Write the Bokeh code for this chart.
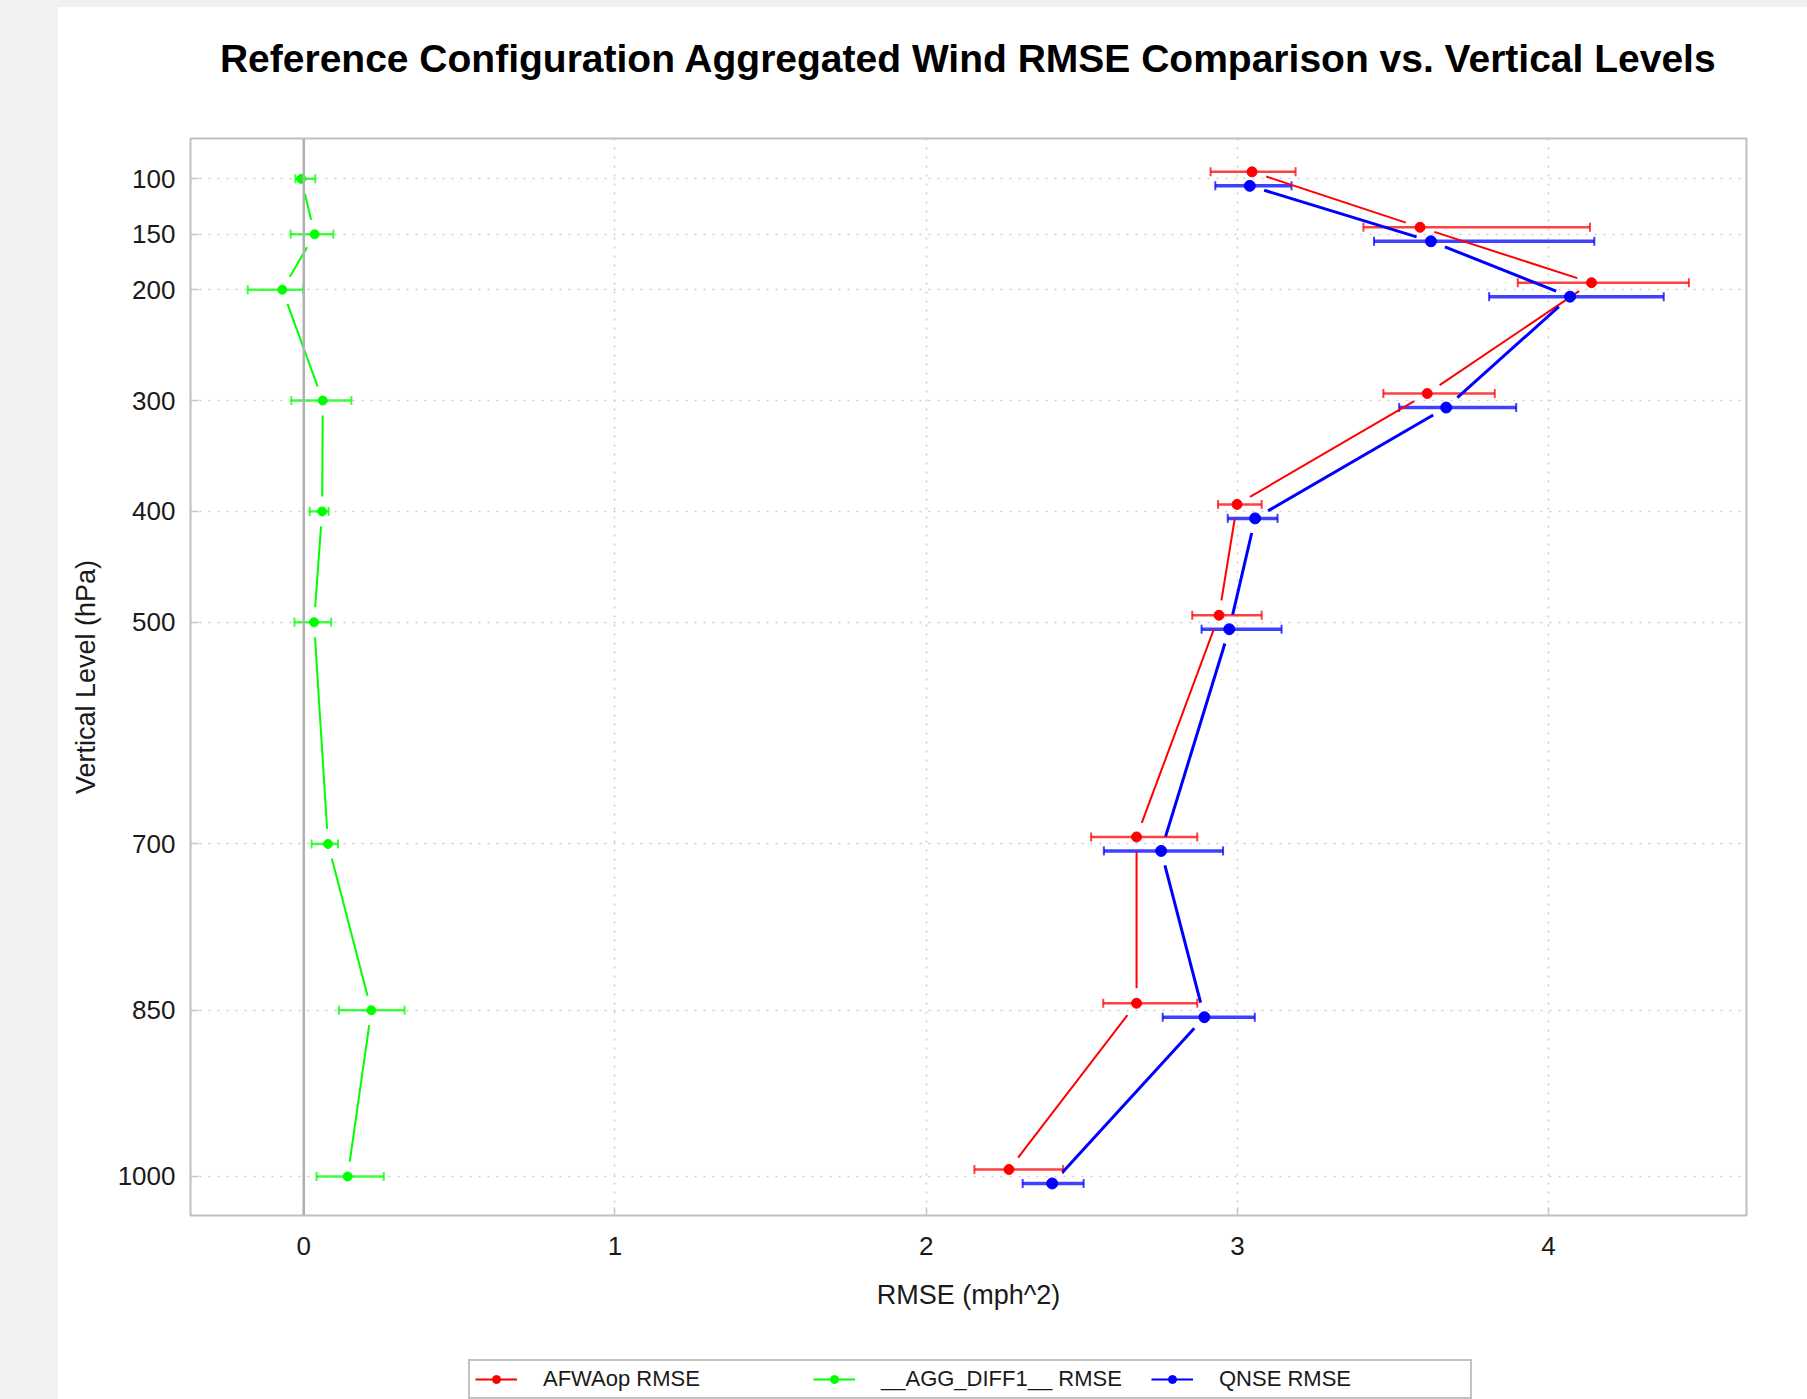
import math
from bokeh.plotting import figure
from bokeh.layouts import column
from bokeh.models import (ColumnDataSource, Range1d, FixedTicker, Whisker, TeeHead,
                          Span, Legend, LegendItem)
from bokeh.embed import file_html
from bokeh.resources import INLINE

# ---------------- data ----------------
levels = [100, 150, 200, 300, 400, 500, 700, 850, 1000]

afwa_rmse = [3.047, 3.587, 4.138, 3.610, 2.999, 2.941, 2.676, 2.676, 2.266]
afwa_lo = [2.914, 3.405, 3.901, 3.469, 2.938, 2.855, 2.530, 2.569, 2.155]
afwa_hi = [3.187, 4.133, 4.451, 3.827, 3.078, 3.078, 2.871, 2.871, 2.440]

qnse_rmse = [3.040, 3.622, 4.069, 3.671, 3.057, 2.974, 2.755, 2.894, 2.405]
qnse_lo = [2.929, 3.439, 3.809, 3.520, 2.969, 2.885, 2.571, 2.760, 2.310]
qnse_hi = [3.174, 4.147, 4.370, 3.896, 3.129, 3.142, 2.954, 3.056, 2.506]

diff_rmse = [-0.008, 0.035, -0.069, 0.061, 0.059, 0.033, 0.078, 0.217, 0.141]
diff_lo = [-0.027, -0.042, -0.180, -0.040, 0.019, -0.030, 0.025, 0.113, 0.041]
diff_hi = [0.037, 0.095, -0.002, 0.153, 0.080, 0.088, 0.110, 0.324, 0.257]

x_ticks = [0, 1, 2, 3, 4]
series_labels = ["AFWAop RMSE", "__AGG_DIFF1__ RMSE", "QNSE RMSE"]

title_text = "Reference Configuration Aggregated Wind RMSE Comparison vs. Vertical Levels"
x_label = "RMSE (mph^2)"
y_label = "Vertical Level (hPa)"

# ---------------- layout / style ----------------
FONT = "Liberation Sans"
X_START, X_END = -0.364, 4.636
Y_BOTTOM, Y_TOP = 1035.2, 63.6
FIG_W = 1749
B_LEFT, B_RIGHT = 132, 61
TITLE_H = 80
LEG_H = 59
MAIN_H = 1399 - 7 - TITLE_H - LEG_H
B_TOP = 131 - TITLE_H
FRAME_H = 1077
B_BOTTOM = MAIN_H - B_TOP - FRAME_H
FRAME_W = FIG_W - B_LEFT - B_RIGHT
SERIES_SHIFT = 6.3  # vertical dodge of the two model series (hPa)
GAP = 15            # px gap between line ends and points


def bare_figure(height, **kw):
    f = figure(width=FIG_W, height=height, output_backend="svg", toolbar_location=None,
               x_range=Range1d(0, 1), y_range=Range1d(0, 1),
               x_axis_type=None, y_axis_type=None, **kw)
    f.outline_line_color = None
    f.grid.visible = False
    f.background_fill_color = "white"
    f.border_fill_color = "white"
    return f


# ---------------- title strip ----------------
tf = bare_figure(TITLE_H, min_border_left=B_LEFT, min_border_right=B_RIGHT,
                 min_border_top=72, min_border_bottom=0, title=title_text)
tf.title.text_font = FONT
tf.title.text_font_size = "39px"
tf.title.text_font_style = "bold"
tf.title.text_color = "black"
tf.title.align = "center"
tf.title.standoff = 0

# ---------------- main chart ----------------
p = figure(width=FIG_W, height=MAIN_H, output_backend="svg", toolbar_location=None,
           x_range=Range1d(X_START, X_END), y_range=Range1d(Y_BOTTOM, Y_TOP),
           min_border_left=B_LEFT, min_border_right=B_RIGHT,
           min_border_top=B_TOP, min_border_bottom=B_BOTTOM)
p.background_fill_color = "white"
p.border_fill_color = "white"
p.outline_line_color = "#bfbfbf"
p.outline_line_width = 2

p.xaxis.ticker = FixedTicker(ticks=x_ticks)
p.yaxis.ticker = FixedTicker(ticks=levels)
for ax in (p.xaxis, p.yaxis):
    ax.axis_line_color = None
    ax.major_tick_out = 0
    ax.major_tick_in = 8
    ax.major_tick_line_color = "#c8c8c8"
    ax.major_tick_line_width = 1.5
    ax.minor_tick_line_color = None
    ax.major_label_text_font = FONT
    ax.major_label_text_font_size = "26px"
    ax.major_label_text_color = "#1a1a1a"
    ax.axis_label_text_font = FONT
    ax.axis_label_text_font_size = "27px"
    ax.axis_label_text_font_style = "normal"
    ax.axis_label_text_color = "#1a1a1a"
p.xaxis.axis_label = x_label
p.yaxis.axis_label = y_label
p.xaxis.major_label_standoff = 21
p.xaxis.axis_label_standoff = 22
p.yaxis.major_label_standoff = 15
p.yaxis.axis_label_standoff = 14

p.grid.grid_line_color = "#cccccc"
p.grid.grid_line_dash = "2 7"
p.grid.grid_line_width = 1.5

p.add_layout(Span(location=0, dimension="height", line_color="#b0b0b0", line_width=2.5))

sx = FRAME_W / (X_END - X_START)
sy = FRAME_H / (Y_BOTTOM - Y_TOP)


def gapped_segments(xs, ys):
    x0, y0, x1, y1 = [], [], [], []
    for i in range(len(xs) - 1):
        dx, dy = xs[i + 1] - xs[i], ys[i + 1] - ys[i]
        L = math.hypot(dx * sx, dy * sy)
        if L <= 2 * GAP:
            continue
        t = GAP / L
        x0.append(xs[i] + dx * t)
        y0.append(ys[i] + dy * t)
        x1.append(xs[i + 1] - dx * t)
        y1.append(ys[i + 1] - dy * t)
    return dict(x0=x0, y0=y0, x1=x1, y1=y1)


def add_series(xs, lo, hi, ys, color, lw, bar_w, dot):
    src = ColumnDataSource(dict(x=xs, y=ys, lo=lo, hi=hi))
    p.segment(x0="x0", y0="y0", x1="x1", y1="y1",
              source=ColumnDataSource(gapped_segments(xs, ys)),
              line_color=color, line_width=lw)
    p.add_layout(Whisker(source=src, base="y", lower="lo", upper="hi", dimension="width",
                         line_color=color, line_width=bar_w, line_alpha=0.75,
                         upper_head=TeeHead(size=9, line_color=color, line_width=2, line_alpha=0.75),
                         lower_head=TeeHead(size=9, line_color=color, line_width=2, line_alpha=0.75)))
    p.scatter(x="x", y="y", source=src, size=dot, color=color)


afwa_y = [lv - SERIES_SHIFT for lv in levels]
qnse_y = [lv + SERIES_SHIFT for lv in levels]

series = [(afwa_rmse, afwa_lo, afwa_hi, afwa_y, "#ff0000", 2, 2.5, 10),
          (diff_rmse, diff_lo, diff_hi, levels, "#00ff00", 2, 2.5, 9),
          (qnse_rmse, qnse_lo, qnse_hi, qnse_y, "#0000ff", 3, 3.5, 11)]
for s in series:
    add_series(*s)

# ---------------- legend strip below the chart ----------------
leg = bare_figure(LEG_H, min_border=0)

items = []
for label, s in zip(series_labels, series):
    color = s[4]
    # off-screen proxies: only their legend glyphs are shown
    ln = leg.line(x=[-5, -4], y=[-5, -5], line_color=color, line_width=2)
    sc = leg.scatter(x=[-5], y=[-5], size=8, color=color)
    items.append(LegendItem(label=label, renderers=[ln, sc]))

legend = Legend(
    items=items, orientation="horizontal", location=(278, 0),
    border_line_color="#858585", border_line_width=2,
    background_fill_color="white", background_fill_alpha=1,
    padding=5, spacing=24, margin=0,
    label_width=246, label_height=20, glyph_width=42, glyph_height=20,
    label_standoff=26, label_text_font=FONT, label_text_font_size="22px",
    label_text_color="#1a1a1a")
leg.add_layout(legend)

layout = column(tf, p, leg, spacing=0, margin=(7, 0, 0, 58),
                styles={"background-color": "white"})

html = file_html(layout, INLINE)
html = html.replace("</head>",
                    "<style>html, body {background-color:#f1f1f1 !important; margin:0;}</style></head>", 1)
open("out.html", "w").write(html)
